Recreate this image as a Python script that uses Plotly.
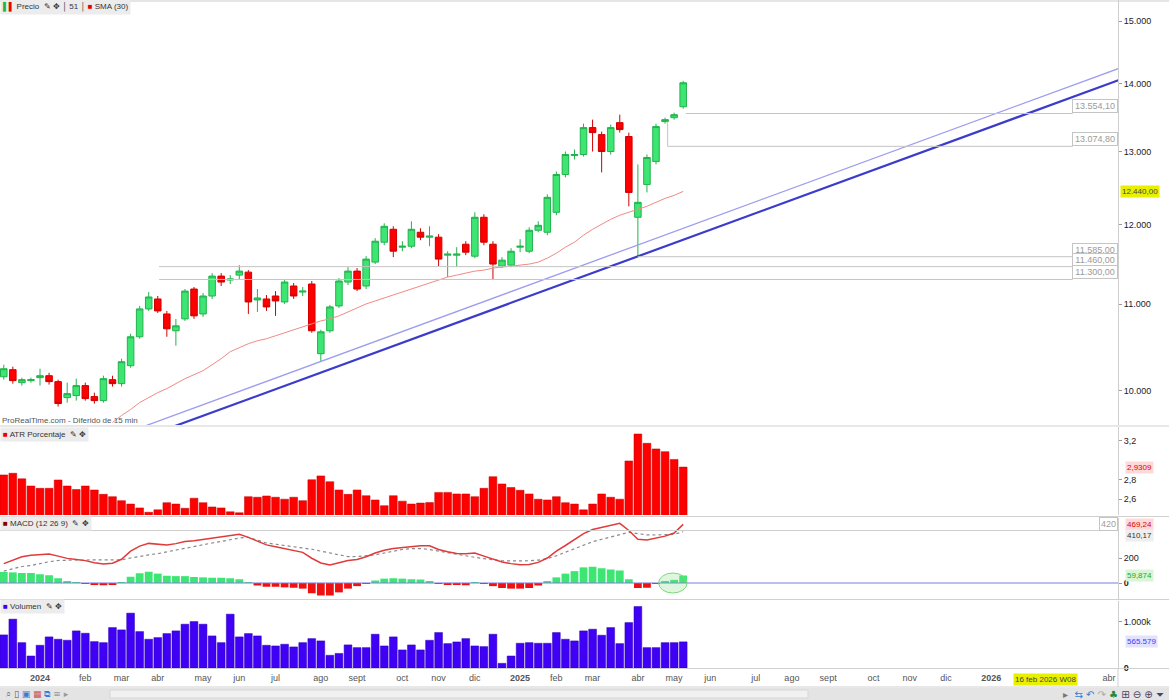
import numpy as np
import pandas as pd
import plotly.graph_objects as go
from plotly.subplots import make_subplots

# ---------------- data (weekly, IBEX 35) ----------------
weeks = pd.date_range("2023-12-04", periods=76, freq="7D")

open_ = [10157, 10236, 10092, 10114, 10147, 10169, 10103, 9928, 9950, 10059,
         9939, 9895, 10125, 10081, 10281, 10612, 10941, 11061, 10881, 10682,
         10822, 11182, 10881, 11097, 11342, 11293, 11354, 11391, 11049, 11061,
         11097, 11025, 11219, 11145, 11244, 10417, 10682, 10977, 11268, 11404,
         11219, 11517, 11771, 11939, 11707, 11719, 11900, 11836, 11836, 11605,
         11605, 11745, 11592, 12097, 11745, 11467, 11479, 11707, 11655, 11926,
         11900, 12163, 12678, 12944, 12958, 13346, 13244, 13001, 13419, 13216,
         12097, 12540, 12860, 13434, 13492, 13655]
high = [10292, 10270, 10147, 10147, 10247, 10202, 10125, 10092, 10136, 10092,
        9982, 10169, 10169, 10360, 10647, 10977, 11145, 11097, 10917, 10822,
        11182, 11207, 11133, 11379, 11379, 11354, 11479, 11416, 11182, 11109,
        11157, 11305, 11256, 11207, 11281, 10694, 10989, 11318, 11454, 11442,
        11593, 11823, 12017, 11978, 11784, 12044, 11952, 11978, 11875, 11655,
        11707, 11784, 12163, 12137, 11784, 11580, 11694, 11810, 11965, 12044,
        12404, 12720, 13001, 13029, 13405, 13463, 13288, 13390, 13536, 13273,
        12818, 12958, 13404, 13492, 13566, 14048]
low = [10125, 10081, 10059, 10092, 10059, 10070, 9831, 9873, 9895, 9895,
       9862, 9873, 10048, 10048, 10258, 10589, 10917, 10893, 10612, 10509,
       10798, 10822, 10846, 11061, 11219, 11244, 11305, 10881, 10905, 10917,
       10858, 11001, 11061, 11097, 10659, 10326, 10659, 10953, 11231, 11157,
       11182, 11492, 11732, 11580, 11655, 11694, 11797, 11719, 11467, 11330,
       11454, 11605, 11567, 11732, 11305, 11442, 11454, 11643, 11630, 11900,
       11862, 12124, 12637, 12888, 12930, 13001, 12706, 12958, 13273, 12243,
       11585, 12431, 12818, 13404, 13463, 13625]
close = [10247, 10114, 10125, 10125, 10169, 10103, 9863, 9971, 10059, 9917,
         9895, 10136, 10081, 10326, 10612, 10941, 11085, 10917, 10705, 10740,
         11157, 10858, 11097, 11342, 11268, 11305, 11404, 11025, 11073, 10965,
         11037, 11268, 11097, 11157, 10682, 10670, 10965, 11281, 11404, 11182,
         11555, 11784, 11978, 11656, 11719, 11939, 11836, 11849, 11555, 11618,
         11618, 11643, 12097, 11771, 11492, 11542, 11655, 11719, 11926, 11991,
         12364, 12678, 12958, 12958, 13346, 13273, 13001, 13346, 13317, 12431,
         12297, 12916, 13361, 13463, 13536, 14018]

sma30 = [None] * 12 + [
    9661, 9735, 9799, 9874, 9928, 9982, 10026, 10081, 10136, 10180,
    10225, 10292, 10360, 10440, 10486, 10532, 10566, 10589, 10624, 10659,
    10694, 10729, 10764, 10798, 10822, 10858, 10905, 10953, 11001, 11037,
    11073, 11109, 11145, 11182, 11219, 11256, 11293, 11330, 11354, 11379,
    11404, 11416, 11442, 11454, 11467, 11479, 11492, 11517, 11567, 11630,
    11707, 11771, 11862, 11939, 12004, 12070, 12124, 12163, 12203, 12243,
    12297, 12350, 12391, 12445]

atr_pct = [2.85, 2.867, 2.81, 2.736, 2.712, 2.712, 2.798, 2.736, 2.70, 2.736,
           2.695, 2.65, 2.626, 2.585, 2.55, 2.51, 2.465, 2.49, 2.564, 2.55,
           2.506, 2.61, 2.564, 2.52, 2.51, 2.47, 2.46, 2.626, 2.62, 2.633,
           2.62, 2.60, 2.62, 2.585, 2.80, 2.84, 2.78, 2.695, 2.65, 2.695,
           2.636, 2.592, 2.533, 2.636, 2.58, 2.55, 2.56, 2.565, 2.67, 2.67,
           2.654, 2.654, 2.626, 2.712, 2.832, 2.757, 2.72, 2.692, 2.654, 2.60,
           2.592, 2.626, 2.564, 2.55, 2.49, 2.55, 2.654, 2.62, 2.60, 2.994,
           3.272, 3.176, 3.118, 3.09, 3.01, 2.9309]

macd_line = [155, 185, 210, 222, 230, 232, 215, 197, 188, 179,
             162, 152, 158, 190, 255, 295, 317, 310, 304, 315,
             332, 338, 348, 362, 374, 382, 389, 365, 333, 305,
             290, 276, 262, 245, 198, 160, 144, 160, 180, 188,
             210, 240, 262, 276, 285, 293, 298, 298, 268, 250,
             237, 235, 240, 215, 190, 168, 155, 146, 148, 165,
             200, 255, 300, 350, 395, 428, 445, 460, 477, 420,
             350, 345, 358, 375, 400, 469.24]
macd_signal = [95, 115, 132, 140, 158, 170, 180, 184, 184, 184,
               184, 184, 184, 186, 200, 215, 225, 235, 250, 262,
               275, 290, 305, 320, 332, 345, 360, 365, 345, 320,
               310, 300, 292, 285, 270, 255, 240, 230, 211, 212,
               216, 225, 240, 255, 268, 275, 275, 268, 255, 240,
               228, 215, 205, 195, 185, 178, 176, 176, 178, 183,
               195, 218, 245, 275, 305, 330, 350, 370, 390, 405,
               395, 385, 384, 385, 390, 410.17]
macd_hist = [88, 85, 80, 80, 70, 62, 38, 15, 5, -2,
             -15, -18, -15, 4, 50, 78, 90, 75, 58, 55,
             55, 48, 45, 42, 42, 38, 30, 2, -20, -30,
             -30, -35, -38, -45, -82, -100, -100, -75, -45, -25,
             -5, 20, 35, 38, 35, 30, 28, 15, -8, -15,
             -15, -18, 3, -5, -25, -40, -45, -45, -40, -20,
             15, 45, 75, 95, 125, 130, 118, 108, 100, 30,
             -40, -38, -5, 10, 25, 59.874]

volume = [716e3, 1057e3, 549e3, 260e3, 492e3, 673e3, 622e3, 600e3, 803e3, 752e3,
          571e3, 549e3, 875e3, 825e3, 1187e3, 788e3, 622e3, 658e3, 745e3, 803e3,
          948e3, 1005e3, 948e3, 694e3, 549e3, 1165e3, 673e3, 745e3, 694e3, 492e3,
          477e3, 514e3, 456e3, 549e3, 636e3, 586e3, 275e3, 315e3, 500e3, 441e3,
          441e3, 731e3, 477e3, 673e3, 391e3, 499e3, 391e3, 600e3, 767e3, 528e3,
          564e3, 636e3, 477e3, 463e3, 731e3, 101e3, 260e3, 535e3, 549e3, 535e3,
          535e3, 767e3, 622e3, 586e3, 803e3, 839e3, 709e3, 875e3, 528e3, 983e3,
          1330e3, 441e3, 441e3, 549e3, 549e3, 565579]

# trend lines: two anchor points each (date, price), drawn straight on log scale
trend_thin = [("2024-03-25", 9638), ("2025-04-07", 11735)]
trend_thick = [("2024-04-22", 9662), ("2025-04-07", 11590)]

# horizontal levels
levels = [13554.10, 13074.80, 11585.00, 11460.00, 11300.00]
level_text = ["13.554,10", "13.074,80", "11.585,00", "11.460,00", "11.300,00"]
level_start = ["2025-05-14", "2025-04-30", "2025-04-07", "2024-04-02", "2024-04-02"]
level_end = "2026-03-09"

month_ticks = ["2024-01-01", "2024-02-05", "2024-03-04", "2024-04-01", "2024-05-06",
               "2024-06-03", "2024-07-01", "2024-08-05", "2024-09-02", "2024-10-07",
               "2024-11-04", "2024-12-02", "2025-01-06", "2025-02-03", "2025-03-03",
               "2025-04-07", "2025-05-05", "2025-06-02", "2025-07-07", "2025-08-04",
               "2025-09-01", "2025-10-06", "2025-11-03", "2025-12-01", "2026-01-05",
               "2026-04-06"]
month_text = ["<b>2024</b>", "feb", "mar", "abr", "may", "jun", "jul", "ago", "sept",
              "oct", "nov", "dic", "<b>2025</b>", "feb", "mar", "abr", "may", "jun",
              "jul", "ago", "sept", "oct", "nov", "dic", "<b>2026</b>", "abr"]

price_ticks = [10000, 11000, 12000, 13000, 14000, 15000]
price_tick_text = ["10.000", "11.000", "12.000", "13.000", "14.000", "15.000"]

# ---------------- layout geometry ----------------
W, H = 1169, 700
ML, MR, MT, MB = 0, 51, 0, 32
PH = H - MT - MB          # plot height in px
PW = W - ML - MR


def py(ypx):
    return (PH - ypx) / PH


def px(xpx):
    return xpx / PW


X_RANGE = ["2023-12-01 02:00", "2026-04-13"]


def extend(anchor, d0, d1):
    (ta, pa), (tb, pb) = anchor
    ta, tb = pd.Timestamp(ta), pd.Timestamp(tb)
    rate = (np.log(pb) - np.log(pa)) / (tb - ta).days
    xs = [pd.Timestamp(d0), pd.Timestamp(d1)]
    ys = [pa * np.exp(rate * (x - ta).days) for x in xs]
    return xs, ys


fig = make_subplots(rows=4, cols=1, shared_xaxes=True, vertical_spacing=0.002)

GREEN = "#3de672"
GREEN_LINE = "#22b24c"
RED = "#ff0000"

# price panel
fig.add_trace(go.Candlestick(
    x=weeks, open=open_, high=high, low=low, close=close,
    increasing=dict(line=dict(color=GREEN_LINE, width=1), fillcolor=GREEN),
    decreasing=dict(line=dict(color="#d00000", width=1), fillcolor=RED),
    whiskerwidth=0, showlegend=False, hoverinfo="skip"), row=1, col=1)

fig.add_trace(go.Scatter(x=weeks, y=sma30, mode="lines",
                         line=dict(color="#f08a84", width=1), showlegend=False,
                         hoverinfo="skip"), row=1, col=1)

xs, ys = extend(trend_thin, "2024-02-15", "2026-05-01")
fig.add_trace(go.Scatter(x=xs, y=ys, mode="lines", line=dict(color="#9c9cf0", width=1.3),
                         showlegend=False, hoverinfo="skip"), row=1, col=1)
xs, ys = extend(trend_thick, "2024-02-15", "2026-05-01")
fig.add_trace(go.Scatter(x=xs, y=ys, mode="lines", line=dict(color="#3b3bcc", width=2.2),
                         showlegend=False, hoverinfo="skip"), row=1, col=1)

for lv, st in zip(levels, level_start):
    fig.add_trace(go.Scatter(x=[st, level_end], y=[lv, lv], mode="lines",
                             line=dict(color="#c4c4c4", width=1), showlegend=False,
                             hoverinfo="skip"), row=1, col=1)
fig.add_trace(go.Scatter(x=[level_start[1], level_start[1]], y=[levels[1], open_[73]],
                         mode="lines", line=dict(color="#c4c4c4", width=1),
                         showlegend=False, hoverinfo="skip"), row=1, col=1)

# ATR panel
fig.add_trace(go.Bar(x=weeks, y=atr_pct, marker=dict(color=RED, line=dict(color="#c00000", width=0.5)),
                     showlegend=False, hoverinfo="skip"), row=2, col=1)

# MACD panel
hist_col = [GREEN if v >= 0 else "#ee1111" for v in macd_hist]
fig.add_trace(go.Bar(x=weeks, y=macd_hist, marker=dict(color=hist_col, line=dict(width=0)),
                     showlegend=False, hoverinfo="skip"), row=3, col=1)
fig.add_trace(go.Scatter(x=weeks, y=macd_signal, mode="lines",
                         line=dict(color="#8a8a8a", width=1.2, dash="dot"),
                         showlegend=False, hoverinfo="skip"), row=3, col=1)
fig.add_trace(go.Scatter(x=weeks, y=macd_line, mode="lines",
                         line=dict(color="#e03a3a", width=1.5),
                         showlegend=False, hoverinfo="skip"), row=3, col=1)

# Volume panel
fig.add_trace(go.Bar(x=weeks, y=volume, marker=dict(color="#3f00f5", line=dict(color="#2a00b0", width=0.5)),
                     showlegend=False, hoverinfo="skip"), row=4, col=1)

# ---------------- axes ----------------
dom_price = [py(425), 1]
dom_atr = [py(515), py(427)]
dom_macd = [py(599), py(518)]
dom_vol = [0, py(601)]

yax_common = dict(side="right", showgrid=False, zeroline=False, ticks="outside",
                  ticklen=3, tickcolor="#999", showline=True, linecolor="#cfcfcf",
                  linewidth=1, tickfont=dict(family="Arial", size=9, color="#222"))

fig.update_layout(
    yaxis=dict(domain=dom_price, type="log",
               range=[np.log10(15000) - 404 / 912.5 / np.log(10), np.log10(15000) + 21 / 912.5 / np.log(10)],
               tickvals=price_ticks, ticktext=price_tick_text, **yax_common),
    yaxis2=dict(domain=dom_atr, range=[2.437, 3.344], tickvals=[2.6, 2.8, 3.2],
                ticktext=["2,6", "2,8", "3,2"], **yax_common),
    yaxis3=dict(domain=dom_macd, range=[-128, 520], tickvals=[0, 200],
                ticktext=["<b>0</b>", "200"], **yax_common),
    yaxis4=dict(domain=dom_vol, range=[0, 1450000], tickvals=[0, 1000000],
                ticktext=["<b>0</b>", "1.000k"], **yax_common),
)
for i in range(1, 5):
    key = "xaxis" if i == 1 else f"xaxis{i}"
    fig.layout[key].update(range=X_RANGE, showgrid=False, zeroline=False, showline=False,
                           rangeslider=dict(visible=False), type="date")
fig.layout.xaxis4.update(tickvals=month_ticks, ticktext=month_text, ticks="",
                         ticklabelstandoff=3,
                         tickfont=dict(family="Arial", size=9, color="#555"))

# ---------------- shapes ----------------
shapes = []
XR = W / PW
for ysep in [426, 516.5, 599.5, 668.5, 687]:
    shapes.append(dict(type="line", xref="paper", yref="paper", x0=0, x1=XR,
                       y0=py(ysep), y1=py(ysep), line=dict(color="#d0d0d0", width=1)))
shapes.append(dict(type="line", xref="paper", yref="paper", x0=0, x1=XR,
                   y0=py(1), y1=py(1), line=dict(color="#cccccc", width=1)))
shapes.append(dict(type="line", xref="paper", yref="paper", x0=1, x1=1,
                   y0=py(687), y1=py(668), line=dict(color="#cfcfcf", width=1)))
# MACD zero line and 420 level
shapes.append(dict(type="line", xref="paper", yref="y3", x0=0, x1=1, y0=0, y1=0,
                   line=dict(color="#7b7be6", width=1.2)))
shapes.append(dict(type="line", xref="paper", yref="y3", x0=0, x1=1, y0=420, y1=420,
                   line=dict(color="#cfcfcf", width=1)))
# green ellipse on MACD histogram
shapes.append(dict(type="circle", xref="x3", yref="y3", x0="2025-04-23", x1="2025-05-15",
                   y0=-80, y1=80, line=dict(color="#7fd67f", width=1),
                   fillcolor="rgba(120,220,120,0.25)"))
# bottom toolbar
shapes.append(dict(type="rect", xref="paper", yref="paper", x0=0, x1=XR,
                   y0=py(700), y1=py(688), fillcolor="#e4e4e4", line=dict(width=0), layer="below"))
shapes.append(dict(type="rect", xref="paper", yref="paper", x0=px(110), x1=px(808),
                   y0=py(698), y1=py(690), fillcolor="#f1f1f1", line=dict(color="#d6d6d6", width=1),
                   layer="below"))
fig.update_layout(shapes=shapes)

# ---------------- annotations ----------------
ann = []
# level boxes
for lv, txt in zip(levels, level_text):
    ann.append(dict(xref="paper", yref="y", x=1.0, y=np.log10(lv), xanchor="right",
                    yanchor="bottom", text=txt, showarrow=False,
                    font=dict(family="Arial", size=9, color="#9a9a9a"),
                    bgcolor="white", bordercolor="#c4c4c4", borderwidth=1, borderpad=1,
                    width=42))
# price cursor label
ann.append(dict(xref="paper", yref="y", x=1.002, y=np.log10(12440), xanchor="left",
                yanchor="middle", text="12.440,00", showarrow=False,
                font=dict(family="Arial", size=8, color="#444"), bgcolor="#e8f000",
                borderpad=1))
# ATR value
ann.append(dict(xref="paper", yref="y2", x=1.006, y=2.93, xanchor="left", yanchor="middle",
                text="2,9309", showarrow=False, font=dict(family="Arial", size=8, color="#e00000"),
                bgcolor="#ffd9d9", borderpad=1))
# MACD values
ann.append(dict(xref="paper", yref="y3", x=1.0, y=420, xanchor="right", yanchor="bottom",
                text="420", showarrow=False, font=dict(family="Arial", size=9, color="#a0a0a0"),
                bgcolor="white", bordercolor="#c4c4c4", borderwidth=1, borderpad=1))
ann.append(dict(xref="paper", yref="y3", x=1.006, y=469, xanchor="left", yanchor="middle",
                text="469,24", showarrow=False, font=dict(family="Arial", size=8, color="#e00000"),
                bgcolor="#ffd9d9", borderpad=1))
ann.append(dict(xref="paper", yref="y3", x=1.006, y=378, xanchor="left", yanchor="middle",
                text="410,17", showarrow=False, font=dict(family="Arial", size=8, color="#333"),
                bgcolor="#eeeeee", borderpad=1))
ann.append(dict(xref="paper", yref="y3", x=1.006, y=62, xanchor="left", yanchor="middle",
                text="59,874", showarrow=False, font=dict(family="Arial", size=8, color="#22aa22"),
                bgcolor="#d8f5d8", borderpad=1))
# volume value
ann.append(dict(xref="paper", yref="y4", x=1.006, y=565579, xanchor="left", yanchor="middle",
                text="565.579", showarrow=False, font=dict(family="Arial", size=8, color="#3a3aff"),
                bgcolor="#e2e2ff", borderpad=1))


# panel titles
def tag(text, ypx):
    return dict(xref="paper", yref="paper", x=0.0, y=py(ypx), xanchor="left",
                yanchor="middle", text=text, showarrow=False, align="left",
                font=dict(family="Arial", size=8, color="#333"), bgcolor="#ececec",
                borderpad=2)


ann.append(tag("<span style='color:#22b24c'>▌</span><span style='color:#e00'>▌</span> Precio  ✎ ✥ │ 51 │ "
               "<span style='color:#e00'>■</span> SMA (30)", 6))
ann.append(tag("<span style='color:#e00'>■</span> ATR Porcentaje  ✎ ✥", 435))
ann.append(tag("<span style='color:#800'>■</span> MACD (12 26 9)  ✎ ✥", 523))
ann.append(tag("<span style='color:#3d00f0'>■</span> Volumen  ✎ ✥", 606))
ann.append(dict(xref="paper", yref="paper", x=0.0, y=py(420), xanchor="left", yanchor="middle",
                text="ProRealTime.com - Diferido de 15 min", showarrow=False,
                font=dict(family="Arial", size=8, color="#555")))
# date cursor label
ann.append(dict(xref="x4", yref="paper", x="2026-02-16", y=py(679), xanchor="center",
                yanchor="middle", text="16 feb 2026 W08", showarrow=False,
                font=dict(family="Arial", size=8, color="#444"), bgcolor="#e8f000", borderpad=1))
# toolbar glyphs
ann.append(dict(xref="paper", yref="paper", x=px(4), y=py(694), xanchor="left", yanchor="middle",
                text="<span style='color:#777'>⌕</span> <span style='color:#555'>▯</span> "
                     "<span style='color:#3a7bd5'>▣</span> <span style='color:#c55'>▦</span> "
                     "<span style='color:#3a7bd5'>⧉</span> <span style='color:#999'>≡ ▸</span>",
                showarrow=False, font=dict(family="DejaVu Sans", size=9)))
ann.append(dict(xref="paper", yref="paper", x=px(1166), y=py(694), xanchor="right", yanchor="middle",
                text="<span style='color:#777'>▸</span>  <span style='color:#3a7bd5'>⇆ ↶</span> "
                     "<span style='color:#aaa'>↷</span> <span style='color:#2a8a3a'>♣</span> "
                     "<span style='color:#446'>⊞ ⊖ ⊕ ⏷</span>",
                showarrow=False, font=dict(family="DejaVu Sans", size=10)))
fig.update_layout(annotations=ann)

fig.update_layout(
    width=W, height=H, margin=dict(l=ML, r=MR, t=MT, b=MB),
    paper_bgcolor="white", plot_bgcolor="white",
    bargap=0.14, boxgap=0.2, boxgroupgap=0.1,
    showlegend=False, font=dict(family="Arial"),
)

fig.write_html("out.html", config={"displayModeBar": False},
               post_script="document.body.style.margin='0px';document.body.style.overflow='hidden';")
